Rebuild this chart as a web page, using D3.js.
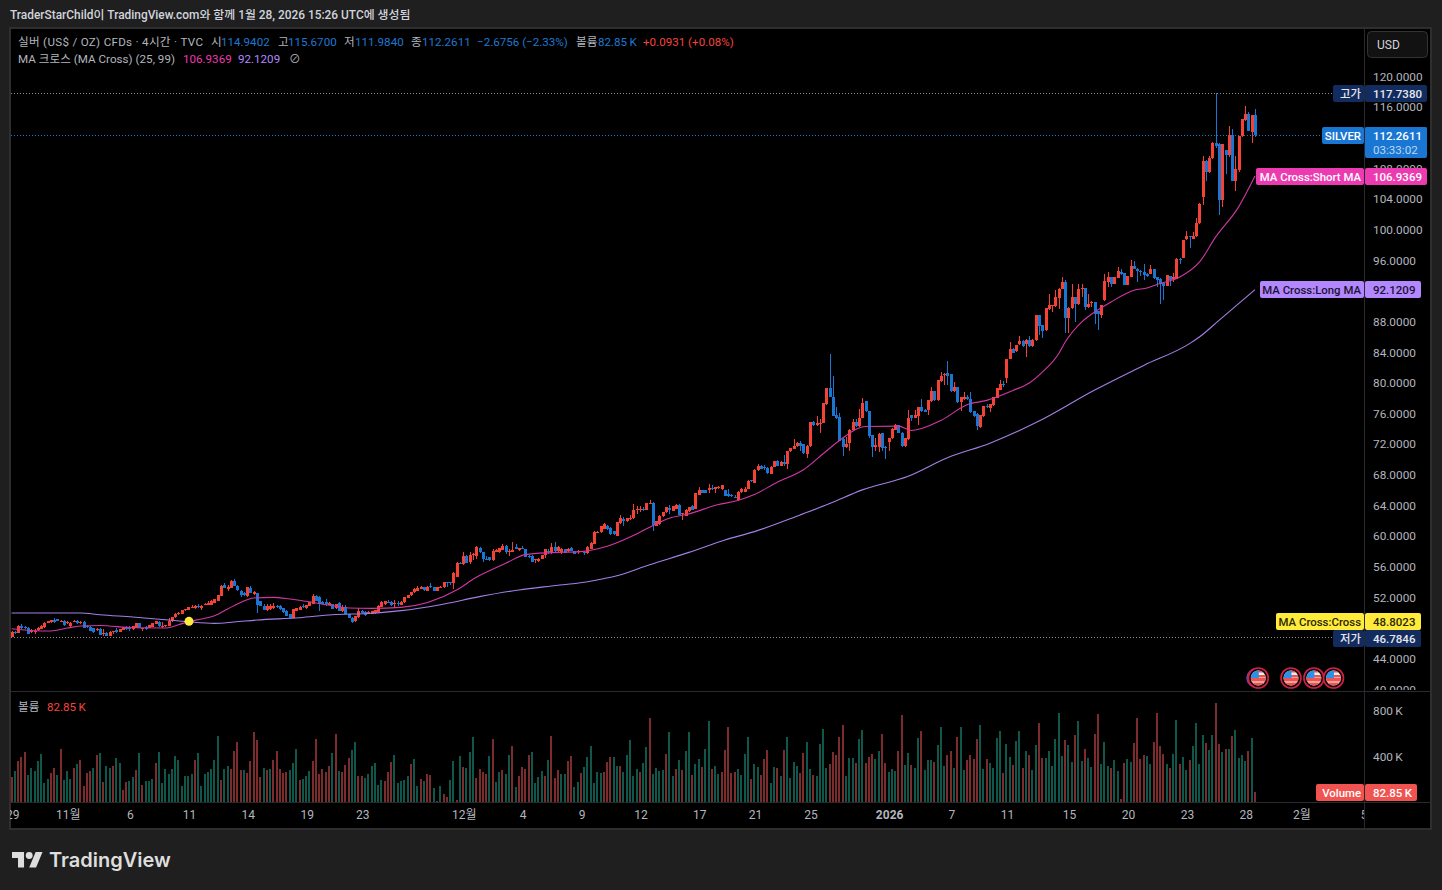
<!DOCTYPE html>
<html>
<head>
<meta charset="utf-8">
<title>SILVER 4H</title>
<script src="https://d3js.org/d3.v7.min.js"></script>
<style>
  html, body { margin: 0; padding: 0; background: #1f1f1f; overflow: hidden; }
  svg { display: block; }
  text { font-family: Roboto, "Noto Sans CJK KR", sans-serif; }
</style>
</head>
<body>
<svg id="chart" width="1442" height="890"></svg>
<script>
// 4h candles
let opens = [
46.8,47.4,47.3,48.2,48.05,48.0,47.35,47.55,47.7,47.85,
48.1,48.6,48.7,49.0,49.05,48.75,48.9,48.6,48.2,48.75,
48.85,48.55,48.75,48.15,48.05,47.9,47.65,47.8,47.1,47.3,
46.95,47.35,47.65,47.45,47.7,48.1,47.95,47.75,48.0,48.6,
47.9,48.1,47.95,48.1,48.45,48.75,48.2,48.25,48.25,48.8,
49.35,49.7,49.7,50.3,50.3,50.65,50.5,50.85,50.6,51.0,
51.0,51.0,51.25,51.5,52.15,53.55,53.0,53.1,54.05,53.45,
52.8,52.45,52.05,53.15,52.4,52.5,51.4,50.85,50.35,50.4,
50.5,50.85,50.75,50.5,50.2,49.7,49.25,50.2,50.3,50.75,
50.5,50.8,51.05,52.15,52.0,51.3,51.3,51.0,51.05,50.5,
51.15,50.1,50.65,49.75,49.3,48.8,49.4,50.2,50.05,49.76,
49.76,49.85,50.05,50.7,51.1,51.35,51.3,51.1,51.25,51.0,
51.3,51.85,52.2,52.6,52.8,53.05,53.25,52.8,53.4,53.25,
52.8,53.3,53.25,54.0,53.95,53.75,54.65,56.45,56.3,57.4,
56.55,57.5,57.4,58.4,57.8,56.9,57.15,56.75,57.85,57.8,
58.15,58.7,57.8,57.85,58.5,58.1,58.4,58.25,57.35,57.4,
56.8,56.65,57.0,57.45,57.95,57.8,58.5,57.95,57.85,58.25,
57.95,58.35,58.0,57.8,57.85,57.9,57.7,58.3,58.9,60.4,
60.45,60.9,61.3,60.95,60.55,60.0,61.6,62.2,61.85,62.15,
62.25,63.35,63.4,63.5,63.4,64.2,64.3,61.3,61.5,62.5,
63.05,63.6,63.25,63.5,64.05,62.9,62.6,63.15,63.8,63.5,
65.35,65.95,65.95,65.9,66.25,66.1,66.2,66.1,65.95,65.4,
65.35,65.1,64.6,65.65,65.7,66.1,67.2,66.9,68.5,69.15,
68.9,68.8,68.05,68.95,69.7,69.15,69.55,69.3,71.0,71.3,
71.65,72.05,71.9,70.7,71.65,74.85,74.4,74.7,74.7,77.15,
79.25,78.15,75.8,75.45,72.65,71.55,72.05,73.8,74.8,74.25,
75.4,77.55,76.25,73.1,71.55,71.55,73.4,71.55,72.2,72.7,
73.8,74.4,73.45,71.65,72.55,75.7,75.35,75.6,76.75,76.45,
76.35,77.55,78.85,77.65,80.15,80.95,81.2,81.1,78.85,79.35,
77.45,77.8,78.15,77.85,76.25,75.9,74.15,75.55,76.95,76.7,
77.0,78.0,79.05,79.85,80.55,83.1,84.4,84.05,84.95,85.35,
85.05,85.5,84.7,85.5,88.75,87.45,86.8,89.55,89.95,89.95,
91.05,92.2,93.05,88.45,89.65,91.1,90.2,92.25,92.3,89.8,
90.45,90.45,89.3,88.75,90.7,93.1,93.75,92.9,93.65,94.4,
94.25,92.75,93.75,95.15,94.85,94.55,94.4,94.2,94.2,94.75,
93.7,93.55,93.0,92.6,93.9,93.55,93.55,96.15,96.3,98.7,
99.1,98.75,99.05,100.75,104.2,108.9,107.5,109.25,111.2,111.1,
103.8,110.3,109.7,112.35,106.35,107.7,112.15,114.2,115.1,112.7,114.9402];

let highs = [
47.5,47.5,48.3,48.4,48.25,48.1,47.8,47.8,48.1,48.3,
48.7,48.85,49.0,49.2,49.1,48.95,49.0,48.8,48.7,49.0,
49.0,48.8,48.8,48.3,48.15,48.0,48.0,48.0,47.8,47.4,
47.5,47.6,47.9,47.8,48.1,48.15,48.2,48.2,48.6,48.6,
48.0,48.2,48.3,48.6,48.8,48.8,48.7,48.3,49.2,49.4,
49.85,50.0,50.3,50.45,50.7,51.0,50.9,51.1,50.9,51.15,
51.4,51.6,51.7,52.3,53.5,53.8,53.5,54.2,54.3,53.5,
52.9,52.6,53.3,53.45,52.8,52.5,51.5,51.1,51.1,51.1,
51.2,51.0,51.0,50.6,50.35,49.75,50.45,50.6,50.8,51.1,
51.0,51.3,52.4,52.3,52.05,51.4,51.7,51.3,51.1,51.1,
51.3,50.9,50.9,49.8,49.4,49.5,50.5,50.35,50.2,50.1,
50.1,50.3,50.9,51.4,51.5,51.6,51.5,51.6,51.4,51.45,
52.0,52.3,52.65,53.1,53.4,53.4,53.3,53.4,53.85,53.3,
53.35,53.4,54.0,54.0,54.0,55.2,56.55,56.5,57.8,57.45,
57.85,57.7,58.7,58.5,57.85,57.4,57.25,58.3,58.2,58.4,
58.85,58.8,58.2,59.1,58.85,58.4,58.7,58.3,57.5,57.45,
56.95,57.05,57.5,58.3,58.3,59.0,59.2,58.6,58.35,58.3,
58.35,58.5,58.0,58.1,58.05,58.0,58.6,59.15,60.55,60.6,
61.3,61.6,61.4,61.1,60.6,61.8,62.7,62.4,62.3,62.7,
64.15,63.8,63.8,63.7,64.25,64.6,64.35,61.9,62.65,63.1,
63.7,64.0,63.85,64.15,64.1,63.0,63.5,63.7,63.95,65.55,
66.4,66.0,66.0,66.75,66.65,66.35,66.45,66.6,66.0,66.1,
65.4,65.3,65.85,66.2,66.3,67.25,67.3,68.65,69.4,69.2,
69.2,68.9,69.05,69.75,69.9,69.7,70.55,71.1,71.5,72.65,
72.2,72.3,72.0,71.8,74.85,75.0,75.55,75.25,77.35,79.3,
83.65,80.8,76.85,76.0,72.7,72.85,73.9,75.25,75.2,76.55,
78.0,77.6,76.3,73.15,72.7,73.35,73.45,71.75,72.8,74.0,
74.6,74.5,73.5,72.8,76.35,75.8,76.35,76.8,77.8,76.5,
77.7,79.4,78.9,80.3,81.4,81.2,82.75,81.15,80.05,79.4,
78.15,78.75,78.4,78.8,76.3,75.95,75.75,76.95,77.2,77.2,
78.15,79.3,80.35,80.2,83.1,85.25,84.45,84.9,86.0,85.6,
85.7,86.0,85.65,88.8,88.8,87.5,89.7,91.5,90.1,92.0,
92.3,93.7,93.4,89.8,92.8,91.15,92.9,92.9,92.35,91.6,
90.6,90.5,89.35,90.1,94.1,94.4,93.8,93.8,95.1,94.8,
94.3,93.9,95.95,95.8,94.9,94.65,95.5,94.25,95.3,94.8,
93.75,93.6,93.05,94.05,93.95,94.3,96.2,96.2,98.6,99.8,
99.15,99.65,101.4,103.4,109.5,109.0,109.5,111.35,117.738,111.2,
111.15,110.4,113.5,113.05,109.55,112.2,114.45,116.1,115.3,114.95,115.67];

let lows = [
46.7846,47.1,47.3,47.8,47.8,47.1,47.3,47.1,47.6,47.8,
48.0,48.55,48.65,48.6,48.85,48.7,48.2,48.4,48.1,48.7,
48.4,48.5,48.0,48.0,47.5,47.3,47.6,47.0,46.85,46.95,
46.85,47.2,47.3,47.4,47.7,47.7,47.6,47.7,48.0,48.0,
47.6,47.7,47.9,48.1,48.4,48.1,47.9,48.1,48.2,48.75,
49.3,49.6,49.7,50.2,50.25,50.5,50.45,50.6,50.3,50.9,
50.95,50.95,51.2,51.5,52.15,53.1,52.8,53.1,53.4,52.8,
52.0,52.15,52.0,52.5,52.3,49.95,50.85,50.3,50.2,50.25,
50.45,50.5,50.3,49.85,49.5,49.2,49.25,50.15,50.25,50.55,
50.45,50.75,51.05,51.4,50.2,51.05,50.8,50.9,50.4,50.45,
50.2,50.05,49.75,49.2,48.65,48.75,49.2,49.85,49.55,49.7,
49.7,49.8,50.05,50.7,51.0,51.2,50.85,50.6,50.8,50.95,
51.25,51.8,52.15,52.5,52.75,53.0,52.8,52.75,53.15,52.8,
52.8,53.1,53.2,53.35,53.5,53.0,54.6,56.3,56.1,56.45,
56.3,56.75,56.9,57.75,56.5,56.75,56.7,56.65,57.8,57.7,
58.1,57.6,57.4,57.8,58.2,58.05,58.2,57.15,57.1,56.6,
56.4,56.6,56.95,57.1,57.6,57.6,57.9,57.9,57.6,57.7,
57.8,57.95,57.55,57.65,57.8,57.5,57.55,58.2,58.85,60.3,
60.4,60.9,60.7,60.1,60.1,59.9,61.5,61.3,61.8,62.1,
62.2,62.85,63.1,63.25,63.35,64.15,60.65,61.25,61.4,62.45,
63.0,62.85,63.2,63.5,62.7,62.1,62.55,63.1,63.3,63.45,
65.3,65.55,65.5,65.6,65.95,65.5,66.1,65.9,65.2,65.0,
65.0,64.9,64.5,65.6,65.65,66.05,67.0,66.9,68.4,68.65,
68.5,68.1,68.0,68.9,69.05,69.1,69.15,68.75,70.95,71.25,
71.6,71.0,70.7,70.1,71.6,74.3,74.3,73.4,74.65,77.0,
78.05,75.6,75.25,72.35,70.45,71.5,71.1,73.75,74.2,74.2,
75.35,76.2,72.75,70.3,71.1,70.9,71.0,70.0,71.1,72.65,
73.75,73.35,71.6,71.6,72.5,74.9,75.3,74.5,76.2,76.1,
75.8,77.5,77.6,77.6,80.1,79.6,79.6,78.8,78.8,77.35,
76.25,77.75,77.75,76.05,75.5,73.8,74.1,75.5,76.6,76.1,
76.95,77.95,79.0,79.45,79.9,83.05,83.8,84.0,84.9,84.6,
83.3,84.65,84.65,85.45,86.15,85.85,86.75,89.5,89.2,89.9,
89.6,92.15,86.45,86.45,89.6,87.85,90.15,91.15,89.4,89.75,
89.85,87.6,86.8,88.45,90.65,92.5,92.45,92.85,93.6,94.05,
92.7,92.7,93.7,94.8,93.1,93.85,93.4,93.8,94.15,93.55,
92.45,90.3,90.7,92.55,92.55,93.1,93.5,95.5,96.25,98.6,
97.6,98.7,99.0,100.7,103.2,106.3,107.3,109.2,110.6,101.85,
102.9,107.2,109.45,106.25,105.0,107.5,112.1,114.15,112.8,111.3,111.984];

let closes = [
47.4,47.3,48.2,48.0,48.0,47.2,47.65,47.6,48.0,48.25,
48.65,48.8,49.0,48.75,48.9,48.8,48.3,48.7,48.65,48.8,
48.6,48.75,48.0,48.05,47.6,47.45,47.75,47.0,47.25,46.95,
47.45,47.6,47.4,47.75,48.1,47.75,47.9,48.2,48.6,48.0,
47.95,47.75,48.3,48.6,48.8,48.15,48.25,48.3,48.9,49.4,
49.75,49.9,50.3,50.4,50.65,50.7,50.8,50.75,50.8,51.1,
51.2,51.5,51.7,52.3,53.45,53.1,53.25,54.05,53.45,52.85,
52.3,52.25,53.25,52.5,52.7,50.95,50.85,50.35,50.85,50.8,
50.85,50.65,50.4,50.0,49.55,49.25,50.4,50.5,50.7,50.65,
50.95,51.3,52.05,51.5,51.05,51.1,51.1,51.2,50.45,51.05,
50.2,50.7,49.75,49.2,48.7,49.5,50.2,49.85,49.6,50.0,
50.1,50.3,50.85,51.3,51.4,51.3,50.9,51.25,51.2,51.35,
51.95,52.25,52.6,53.0,53.2,53.25,52.85,53.3,53.3,52.8,
53.35,53.35,54.0,53.9,53.9,55.15,56.45,56.35,57.4,56.45,
57.5,57.55,58.45,57.8,56.9,56.85,56.75,58.05,58.15,58.35,
58.7,57.9,58.0,58.15,58.2,58.4,58.25,57.15,57.3,56.6,
56.9,57.0,57.45,58.2,57.8,58.5,57.95,58.5,58.25,57.7,
58.3,57.95,57.65,57.95,58.05,57.85,58.55,59.0,60.45,60.5,
61.2,61.45,60.8,60.15,60.15,61.75,62.25,61.95,62.3,62.3,
63.35,63.5,63.5,63.4,64.2,64.3,61.4,61.9,62.6,63.05,
63.7,63.3,63.8,64.0,62.75,63.0,63.4,63.7,63.35,65.5,
66.0,65.6,65.55,66.25,66.2,66.3,66.4,66.55,65.2,65.15,
65.2,65.0,65.75,66.1,66.1,67.1,67.1,68.6,69.15,68.7,
68.8,68.15,69.0,69.7,69.1,69.6,69.4,71.05,71.45,71.65,
72.15,71.75,70.75,71.75,74.8,74.4,74.75,74.75,77.3,79.25,
78.1,75.65,75.3,72.4,71.55,72.0,73.85,74.8,74.3,75.4,
77.35,76.25,72.95,71.55,71.8,73.3,71.45,71.45,72.75,73.95,
74.4,73.4,71.65,72.75,75.4,75.4,75.7,76.75,76.25,76.15,
77.65,78.85,77.65,80.25,80.9,81.05,80.85,78.85,79.4,77.4,
78.1,78.15,77.8,76.1,75.55,74.25,75.7,76.9,76.9,77.15,
78.1,79.25,79.85,79.8,83.1,84.4,83.85,84.85,85.35,84.8,
85.55,84.7,85.6,88.75,87.3,86.7,89.65,90.05,90.05,91.1,
92.25,93.05,88.45,89.75,91.1,90.2,92.25,92.3,89.85,90.3,
90.5,88.9,88.9,90.05,93.2,93.75,92.9,93.75,94.5,94.1,
92.75,93.85,95.15,94.85,94.5,94.5,94.0,93.85,94.75,93.6,
93.35,92.9,92.6,94.0,93.35,93.75,96.15,96.1,98.55,99.1,
99.0,99.05,100.75,103.35,108.9,107.5,109.25,111.3,110.8,103.8,
111.1,109.7,112.35,106.3,107.8,112.15,114.4,115.1,112.85,114.9,112.2611];

// volume in thousands, r/g is the bar colour
let volumes = [
220,270,355,390,435,235,295,270,355,420,
165,200,250,295,235,460,190,270,200,295,
330,365,140,250,270,295,410,425,175,315,
295,315,385,340,105,175,185,215,280,425,
150,185,185,200,340,435,165,285,245,285,
400,365,140,225,225,245,365,425,140,245,
260,285,365,575,190,285,315,285,445,520,
280,280,250,355,610,540,215,295,280,285,
365,445,285,250,260,280,340,460,190,200,
225,270,355,550,245,285,260,315,425,590,
270,260,320,385,450,520,225,225,210,245,
315,340,150,190,185,260,350,410,165,
185,190,225,330,375,140,200,185,245,235,
120,10,140,70,45,190,355,15,400,305,
295,435,565,210,285,260,245,400,550,175,
260,280,245,410,485,130,225,305,285,410,
435,165,220,270,225,365,575,210,280,245,
245,355,400,130,175,250,305,390,485,165,
260,250,260,350,390,390,315,315,260,410,
540,225,285,260,340,480,730,245,295,270,
280,420,610,225,285,365,280,445,610,235,
330,375,305,460,705,285,315,245,260,450,
650,250,260,285,235,420,565,200,330,305,
235,375,450,165,305,295,225,450,565,210,
350,315,250,425,520,285,235,225,505,635,
295,330,435,410,565,670,225,385,385,340,
550,625,340,390,420,375,445,590,340,260,
285,270,445,755,320,425,320,295,555,615,
280,365,365,350,495,650,315,410,445,295,
565,650,280,365,410,375,550,670,285,375,
340,295,555,615,250,505,390,320,530,615,
295,445,410,280,495,685,385,385,445,315,
550,775,400,540,495,350,585,705,355,460,
385,305,590,765,330,520,315,295,365,270,
25,340,375,350,515,730,375,410,400,330,
520,775,485,420,330,295,420,715,330,390,
280,365,485,685,330,585,515,450,585,860,
505,435,460,460,575,625,385,410,355,445,
555,82.85];

let volumeDirs = (
"rgrrrggggg"+"ggrrgrgggr"+"grrrrgrgrg"+"grggrrggrg"+"rgggrggggg"+"ggggggrggg"+
"ggggrggrrr"+"rgrrrrrgrg"+"rrrrrgggrg"+"ggrrrrrrgr"+"grrrggrrgg"+"ggggrrrgg"+
"gggrggrgrr"+"grgrrggrgr"+"gggrrrrgrg"+"grggrgrrrr"+"ggggrgrrrg"+"grrggrgggg"+
"ggrrrggrgg"+"gggrggrggg"+"grggrgrggr"+"ggrggrggrr"+"rrrggggrgg"+"rrrggrgrgg"+
"ggrrggrggg"+
"grrrrrgggr"+"ggrrrggrrg"+"ggrrggrggr"+"gggrgggrrg"+"rggrrrrggr"+"ggggrggrgg"+
"rgrggrrggg"+"gggrggrggr"+"ggrrgggrgg"+"rrggrrrrgg"+"rrrrgrggrg"+"grggggrggr"+
"rgrgrggggr"+"gr").split("");

// moving averages, read at points along each line
let shortMaIdx = [0,7,12,17,21,27,37,47,51,54,58,62,66,70,74,80,85,90,98,103,110,119,136,142,151,157,165,174,182,190,195,201,207,216,221,227,234,242,248,253,261,271,275,284,292,298,306,311,315,320,322,327,330,336,343,347,351,357,363,368,375,380];
let shortMa = [47.84,47.58,47.54,47.93,48.2,48.27,47.97,47.93,48.36,48.75,49.11,49.54,50.42,51.28,51.86,51.94,51.73,51.42,50.85,50.55,50.5,50.63,52.9,54.55,56.38,57.52,57.78,57.91,58.6,60.0,61.09,62.27,62.84,64.05,64.48,65.36,66.97,68.59,70.68,72.42,74.25,74.29,73.73,75.03,77.09,77.65,78.95,79.93,81.35,83.75,85.27,87.88,88.89,90.5,92.03,92.33,92.9,93.76,95.69,98.99,102.91,106.9369];
let longMaIdx = [0,15,21,27,37,47,54,62,68,75,88,98,109,119,131,143,155,165,175,180,185,195,207,218,227,241,250,260,274,286,299,314,331,346,360,363,369,380];
let longMa = [49.9,49.9,49.9,49.67,49.37,49.02,48.75,48.54,48.72,48.98,49.28,49.67,49.84,50.2,50.98,52.03,52.9,53.42,53.9,54.3,54.77,56.2,57.81,59.43,60.52,62.7,64.18,65.97,67.75,70.16,72.07,74.95,79.0,82.22,85.06,85.92,88.1,92.1209];
let crossIdx = 54;
let crossValue = 48.8023;

let priceTicks = d3.range(40, 124, 4);
let volumeTicks = [400, 800];
let timeTickIdx = [0,17,36,54,72,90,107,138,156,174,192,210,227,244,268,287,304,323,341,359,377,394,413];
let timeTickLabels = ["29","11월","6","11","14","19","23","12월","4","9","12","17","21","25","2026","7","11","15","20","23","28","2월","5"];
let eventIdx = [381, 391, 398, 404];

let fg = "#b2b5be";
let svg = d3.select("#chart");

let x = d3.scaleLinear().domain([0, 380]).range([11.6, 1255]);
let y = d3.scaleLinear().domain([40, 120]).range([688.8, 76]);
let yVol = d3.scaleLinear().domain([0, 800]).range([802, 710]);

// panel
svg.append("rect").attr("x", 10).attr("y", 28).attr("width", 1421).attr("height", 801)
  .attr("fill", "#000").attr("stroke", "#2e2e2e").attr("stroke-width", 2);

let defs = svg.append("defs");
defs.append("clipPath").attr("id", "clipPrice").append("rect")
  .attr("x", 11).attr("y", 29).attr("width", 1353).attr("height", 662);
defs.append("clipPath").attr("id", "clipPriceAxis").append("rect")
  .attr("x", 1365).attr("y", 60).attr("width", 66).attr("height", 630);
defs.append("clipPath").attr("id", "clipTime").append("rect")
  .attr("x", 10).attr("y", 803).attr("width", 1354).attr("height", 26);

function hLine(x1, x2, yy, color) {
  svg.append("line").attr("x1", x1).attr("x2", x2).attr("y1", yy).attr("y2", yy)
    .attr("stroke", color).attr("stroke-width", 1).attr("shape-rendering", "crispEdges");
}
hLine(11, 1431, 691.5, "#2a2a2e");
hLine(11, 1431, 802.5, "#2a2a2e");
svg.append("line").attr("x1", 1364.5).attr("x2", 1364.5).attr("y1", 29).attr("y2", 829)
  .attr("stroke", "#2a2a2e").attr("shape-rendering", "crispEdges");

// axes
let priceAxis = d3.axisRight(y).tickValues(priceTicks).tickFormat(d3.format(".4f")).tickSize(0).tickPadding(0);
let priceG = svg.append("g").attr("clip-path", "url(#clipPriceAxis)").append("g")
  .attr("transform", "translate(1373,0.5)").call(priceAxis);
priceG.select(".domain").remove();
priceG.selectAll("text").attr("fill", fg).attr("font-size", 11.8).attr("font-family", null);

let volAxis = d3.axisRight(yVol).tickValues(volumeTicks).tickFormat(d => d + "\u2009K").tickSize(0).tickPadding(0);
let volG = svg.append("g").attr("transform", "translate(1373,0.5)").call(volAxis);
volG.select(".domain").remove();
volG.selectAll("text").attr("fill", fg).attr("font-size", 11.8).attr("font-family", null);

let timeAxis = d3.axisBottom(x).tickValues(timeTickIdx)
  .tickFormat(d => timeTickLabels[timeTickIdx.indexOf(d)]).tickSize(0).tickPadding(0);
let timeG = svg.append("g").attr("clip-path", "url(#clipTime)").append("g")
  .attr("transform", "translate(0.6,810.5)").call(timeAxis);
timeG.select(".domain").remove();
timeG.selectAll("text").attr("fill", fg).attr("font-size", 12).attr("font-family", null)
  .attr("font-weight", d => timeTickLabels[timeTickIdx.indexOf(d)] === "2026" ? 700 : 400);

// volume
let bars = d3.range(closes.length);
svg.append("g").attr("shape-rendering", "crispEdges").selectAll("rect").data(bars).join("rect")
  .attr("x", i => Math.round(x(i)) - 1)
  .attr("width", 2)
  .attr("y", i => yVol(volumes[i]))
  .attr("height", i => 802 - yVol(volumes[i]))
  .attr("fill", i => volumeDirs[i] === "r" ? "#7c2c2c" : "#0f564b");

// dotted high/low/last lines
function dotted(value, xEnd, color) {
  svg.append("line").attr("x1", 11).attr("x2", xEnd)
    .attr("y1", Math.round(y(value)) + 0.5).attr("y2", Math.round(y(value)) + 0.5)
    .attr("stroke", color).attr("stroke-width", 1).attr("stroke-dasharray", "1 2");
}
dotted(117.738, 1333, "#8a8a8a");
dotted(46.7846, 1333, "#8a8a8a");
dotted(112.2611, 1322, "#1976d2");

// candles
let upColor = "#f44336", downColor = "#1976d2";
let candleG = svg.append("g").attr("clip-path", "url(#clipPrice)").attr("shape-rendering", "crispEdges");
let candleColor = i => closes[i] >= opens[i] ? upColor : downColor;
candleG.selectAll("rect.wick").data(bars).join("rect").attr("class", "wick")
  .attr("x", i => Math.round(x(i)))
  .attr("width", 1)
  .attr("y", i => y(highs[i]))
  .attr("height", i => Math.max(1, y(lows[i]) - y(highs[i])))
  .attr("fill", candleColor);
candleG.selectAll("rect.body").data(bars).join("rect").attr("class", "body")
  .attr("x", i => Math.round(x(i)) - 1)
  .attr("width", 3)
  .attr("y", i => y(Math.max(opens[i], closes[i])))
  .attr("height", i => Math.max(1, Math.abs(y(opens[i]) - y(closes[i]))))
  .attr("fill", candleColor);

// moving averages
function maLine(idx, values, color) {
  let line = d3.line().x(d => x(d[0])).y(d => y(d[1])).curve(d3.curveMonotoneX);
  svg.append("path").datum(idx.map((d, k) => [d, values[k]]))
    .attr("clip-path", "url(#clipPrice)")
    .attr("d", line).attr("fill", "none").attr("stroke", color).attr("stroke-width", 1.1);
}
maLine(longMaIdx, longMa, "#a47fe6");
maLine(shortMaIdx, shortMa, "#cf38a4");

svg.append("circle").attr("cx", x(crossIdx) + 0.7).attr("cy", y(crossValue)).attr("r", 4.5).attr("fill", "#ffeb3b");

// event flags
defs.append("clipPath").attr("id", "flagClip").append("circle").attr("r", 7.5);
eventIdx.forEach((idx, k) => {
  let g = svg.append("g").attr("transform", `translate(${x(idx)},678)`);
  if (k === 0) g.append("circle").attr("cx", -2).attr("r", 10).attr("fill", "#7b3fb5");
  g.append("circle").attr("r", 10).attr("fill", "#0b0b0f").attr("stroke", "#d3213f").attr("stroke-width", 1.6);
  let f = g.append("g").attr("clip-path", "url(#flagClip)");
  f.append("rect").attr("x", -8).attr("y", -8).attr("width", 16).attr("height", 16).attr("fill", "#f0f0f0");
  f.append("rect").attr("x", -8).attr("y", 0).attr("width", 16).attr("height", 3.5).attr("fill", "#ef5350");
  f.append("rect").attr("x", -8).attr("y", 4.5).attr("width", 16).attr("height", 4).attr("fill", "#ef5350");
  f.append("rect").attr("x", -1).attr("y", -8).attr("width", 9).attr("height", 2.5).attr("fill", "#ef5350");
  f.append("rect").attr("x", -1).attr("y", -3).attr("width", 9).attr("height", 2.5).attr("fill", "#ef5350");
  f.append("rect").attr("x", -8).attr("y", -8).attr("width", 8.5).attr("height", 8).attr("fill", "#2e8fe8");
});

function label(str, px, py, color, opts) {
  opts = opts || {};
  let t = svg.append("text").attr("x", px).attr("y", py).attr("fill", color)
    .attr("font-size", opts.size || 11.6).attr("font-weight", opts.weight || 400)
    .attr("text-anchor", opts.anchor || "start").attr("dominant-baseline", "central").text(str);
  if (opts.len) t.attr("textLength", opts.len).attr("lengthAdjust", "spacing");
  return t;
}

// tags on the price scale
function tag(cy, left, name, value, right, bg, textColor) {
  svg.append("rect").attr("x", left).attr("y", cy - 8.5).attr("width", 1364 - left).attr("height", 17)
    .attr("rx", 2).attr("fill", bg);
  svg.append("rect").attr("x", 1365).attr("y", cy - 8.5).attr("width", right - 1365).attr("height", 17)
    .attr("rx", 2).attr("fill", bg);
  label(name, 1361, cy, textColor, { anchor: "end", weight: 500, size: 11.4 });
  label(value, 1373, cy, textColor, { weight: 500, size: 11.5 });
}
tag(93.5, 1333, "고가", "117.7380", 1427, "#132c5f", "#e6e8ee");
svg.append("rect").attr("x", 1365).attr("y", 127).attr("width", 62).attr("height", 31).attr("rx", 2).attr("fill", "#1976d2");
tag(135.5, 1322, "SILVER", "112.2611", 1427, "#1976d2", "#fff");
label("03:33:02", 1373, 149.5, "#b9d6f2");
tag(176.5, 1256, "MA Cross:Short MA", "106.9369", 1427, "#ec3ab0", "#fff");
tag(289.5, 1260, "MA Cross:Long MA", "92.1209", 1421, "#b388ff", "#1c1330");
tag(621.5, 1276, "MA Cross:Cross", "48.8023", 1421, "#ffeb3b", "#2a2600");
tag(638.5, 1333, "저가", "46.7846", 1421, "#132c5f", "#e6e8ee");
tag(792.5, 1316, "Volume", "82.85\u2009K", 1417, "#f05350", "#fff");

// currency button
svg.append("rect").attr("x", 1367.5).attr("y", 31.5).attr("width", 60).attr("height", 26).attr("rx", 4)
  .attr("fill", "#121212").attr("stroke", "#333");
label("USD", 1377, 44.5, "#d1d4dc", { size: 12 });

// header
label("TraderStarChild이 TradingView.com와 함께 1월 28, 2026 15:26 UTC에 생성됨", 10, 14.5, "#d1d4dc", { weight: 500, size: 11.9 });

let blue = "#1e78d2", red = "#f2453d";
let legendRow = [
  ["실버 (US$ / OZ) CFDs · 4시간 · TVC", 18, fg, 185], ["시", 211, fg], ["114.9402", 221, blue], ["고", 278, fg],
  ["115.6700", 288, blue], ["저", 344, fg], ["111.9840", 355, blue], ["종", 411, fg], ["112.2611", 422, blue],
  ["−2.6756 (−2.33%)", 477, blue], ["볼륨", 576, fg], ["82.85\u2009K", 598, blue], ["+0.0931 (+0.08%)", 643, red]
];
legendRow.forEach(d => label(d[0], d[1], 41.5, d[2], { len: d[3] }));
label("MA 크로스 (MA Cross) (25, 99)", 18, 58.5, fg, { len: 157 });
label("106.9369", 183, 58.5, "#ec3ab0");
label("92.1209", 238, 58.5, "#b388ff");
label("⊘", 289, 58.5, fg);
label("볼륨", 18, 706.5, fg);
label("82.85\u2009K", 47, 706.5, red);

// logo
let logo = svg.append("g").attr("transform", "translate(12,848.6) scale(0.86)").attr("fill", "#dedede");
logo.append("path").attr("d", "M14 22H7V11H0V4h14v18zM28 22h-8l7.5-18h8L28 22z");
logo.append("circle").attr("cx", 20).attr("cy", 8).attr("r", 4);
svg.append("text").attr("x", 49).attr("y", 867).attr("fill", "#dedede").attr("font-size", 20)
  .attr("font-weight", 600).style("font-family", "Inter").text("TradingView");
</script>
</body>
</html>
